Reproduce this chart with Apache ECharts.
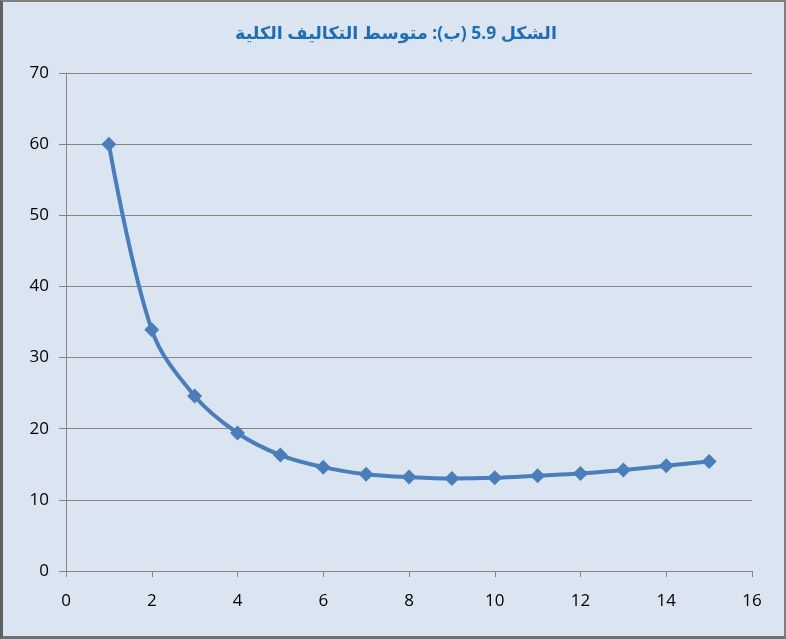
<!DOCTYPE html>
<html>
<head>
<meta charset="utf-8">
<script src="https://cdn.jsdelivr.net/npm/echarts@6/dist/echarts.min.js"></script>
<style>
html,body{margin:0;padding:0;background:#dbe5f1;}
#wrap{width:786px;height:639px;box-sizing:border-box;border-top:2px solid #808080;border-right:2px solid #808080;border-left:3px solid #606060;border-bottom:3px solid #707070;background:#dbe5f1;}
#chart{width:781px;height:634px;}
</style>
</head>
<body>
<div id="wrap"><div id="chart"></div></div>
<script>
const titleText = 'الشكل 5.9 (ب): متوسط التكاليف الكلية';
const xValues = [1,2,3,4,5,6,7,8,9,10,11,12,13,14,15];
const avgTotalCost = [60,33.9,24.6,19.4,16.3,14.6,13.6,13.2,13.0,13.1,13.4,13.7,14.2,14.8,15.4];

const chart = echarts.init(document.getElementById('chart'));
chart.setOption({
  backgroundColor: '#dbe5f1',
  animation: false,
  title: {
    text: titleText,
    left: 388, top: 18, textAlign: 'center',
    textStyle: {color: '#1f6db5', fontSize: 17.5, fontWeight: 'bold', fontFamily: 'Noto Sans, DejaVu Sans'}
  },
  grid: {left: 63, right: 32, top: 71, bottom: 65, containLabel: false},
  xAxis: {
    type: 'value', min: 0, max: 16, interval: 2,
    axisLine: {show: true, lineStyle: {color: '#868686', width: 1}},
    axisTick: {show: true, length: 6, lineStyle: {color: '#868686'}},
    axisLabel: {color: '#000', fontSize: 17, margin: 22, fontFamily: 'Open Sans'},
    splitLine: {show: false}
  },
  yAxis: {
    type: 'value', min: 0, max: 70, interval: 10,
    axisLine: {show: true, lineStyle: {color: '#868686', width: 1}},
    axisTick: {show: true, length: 7, lineStyle: {color: '#868686'}},
    axisLabel: {color: '#000', fontSize: 17, margin: 17, fontFamily: 'Open Sans'},
    splitLine: {show: true, lineStyle: {color: '#868686', width: 1}}
  },
  series: [{
    type: 'line',
    data: xValues.map((x, i) => [x, avgTotalCost[i]]),
    smooth: 0.35,
    symbol: 'diamond',
    symbolSize: 15,
    lineStyle: {color: '#4a7ebb', width: 4},
    itemStyle: {color: '#4a7ebb'}
  }]
});
</script>
</body>
</html>
